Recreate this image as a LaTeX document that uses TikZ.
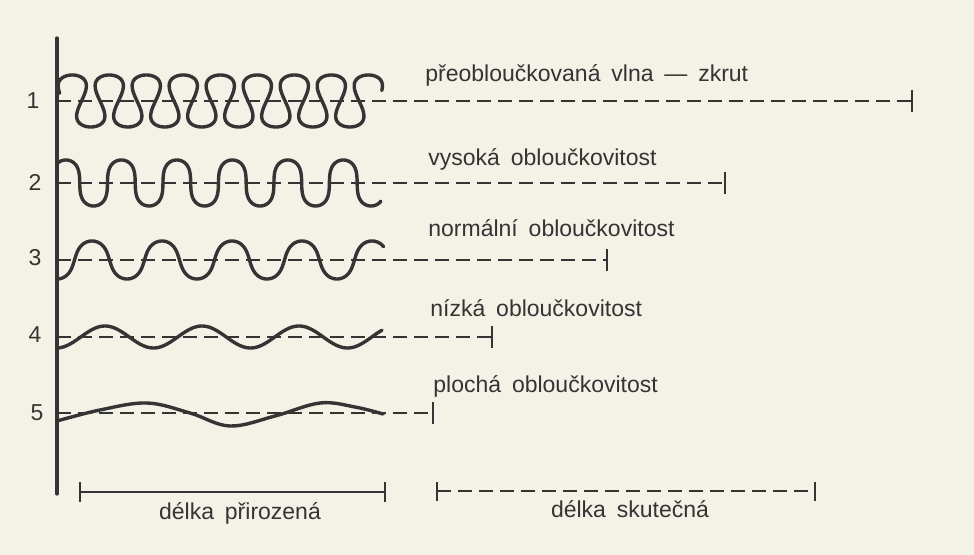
\documentclass[tikz,border=0pt]{standalone}
\usepackage{fontspec}
\setmainfont{Liberation Sans}[WordSpace=1.7]
\usepackage{xcolor}
\definecolor{paper}{RGB}{244,241,231}
\definecolor{ink}{RGB}{52,52,52}

\begin{document}
\begin{tikzpicture}[x=0.5pt,y=-0.5pt,
  wave/.style={ink, line width=1.7pt, line cap=round, line join=round},
  guide/.style={ink, line width=1pt, dash pattern=on 7pt off 3.5pt},
  endbar/.style={ink, line width=1.4pt},
  lbl/.style={anchor=base west, text=ink, inner sep=0pt, font=\fontsize{11.5}{13}\selectfont},
  num/.style={anchor=base, text=ink, inner sep=0pt, font=\fontsize{11.5}{13}\selectfont}]
\fill[paper] (0,0) rectangle (974,555);
\useasboundingbox (0,0) rectangle (974,555);

\coordinate (top) at (57,38);
\coordinate (bot) at (57,494);
\draw[ink, line width=1.6pt, line cap=round] (top) -- (bot);

\node[num] (n1) at (33,109) {1};
\node[num] (n2) at (35,191) {2};
\node[num] (n3) at (35,266) {3};
\node[num] (n4) at (35,343) {4};
\node[num] (n5) at (37,421) {5};

\node[lbl] (l1) at (425,82) {přeobloučkovaná vlna — zkrut};
\node[lbl] (l2) at (428,166) {vysoká obloučkovitost};
\node[lbl] (l3) at (428,237) {normální obloučkovitost};
\node[lbl] (l4) at (430,317) {nízká obloučkovitost};
\node[lbl] (l5) at (433,393) {plochá obloučkovitost};

\foreach \n/\y/\e in {1/101/912, 2/183/725, 3/260/607, 4/337/492, 5/413/433}{
  \coordinate (s\n) at (57,\y);
  \coordinate (e\n) at (\e,\y);
  \draw[guide] (s\n) -- (e\n);
  \draw[endbar] (\e,\y-11) -- (\e,\y+11);
}

\draw[wave] plot[domain=0.3:53, samples=800, variable=\t]
  ({63+5.89*\t-9*sin(2*\t r)}, {101-26*sin(\t r)});
\draw[wave] plot[domain=1.0:36.8, samples=500, variable=\t]
  ({52+8.83*\t-4.2*sin(2*\t r)}, {183-23*sin(\t r)});
\draw[wave] plot[domain=-1.5708:27.5, samples=400, variable=\t]
  ({74.5+11.14*\t-2.8*sin(2*\t r)}, {260-19*sin(\t r)});
\draw[wave] plot[domain=57:382, samples=200, variable=\x]
  (\x, {337+11*cos(3.7113*(\x-56.5))});
\draw[wave] plot[smooth, tension=0.6] coordinates
  {(57,421) (100,410) (147,403) (190,413) (230,426) (275,416) (320,403) (355,407) (383,414)};

\coordinate (a1) at (80,492);
\coordinate (a2) at (385,492);
\coordinate (b1) at (437,491);
\coordinate (b2) at (815,491);
\draw[ink, line width=1.2pt] (a1) -- (a2);
\draw[endbar] (80,482) -- (80,502);
\draw[endbar] (385,482) -- (385,502);
\draw[guide] (b1) -- (b2);
\draw[endbar] (437,482) -- (437,501);
\draw[endbar] (815,482) -- (815,501);

\node[num] (d1) at (240,519) {délka přirozená};
\node[num] (d2) at (630,517) {délka skutečná};
\end{tikzpicture}
\end{document}
